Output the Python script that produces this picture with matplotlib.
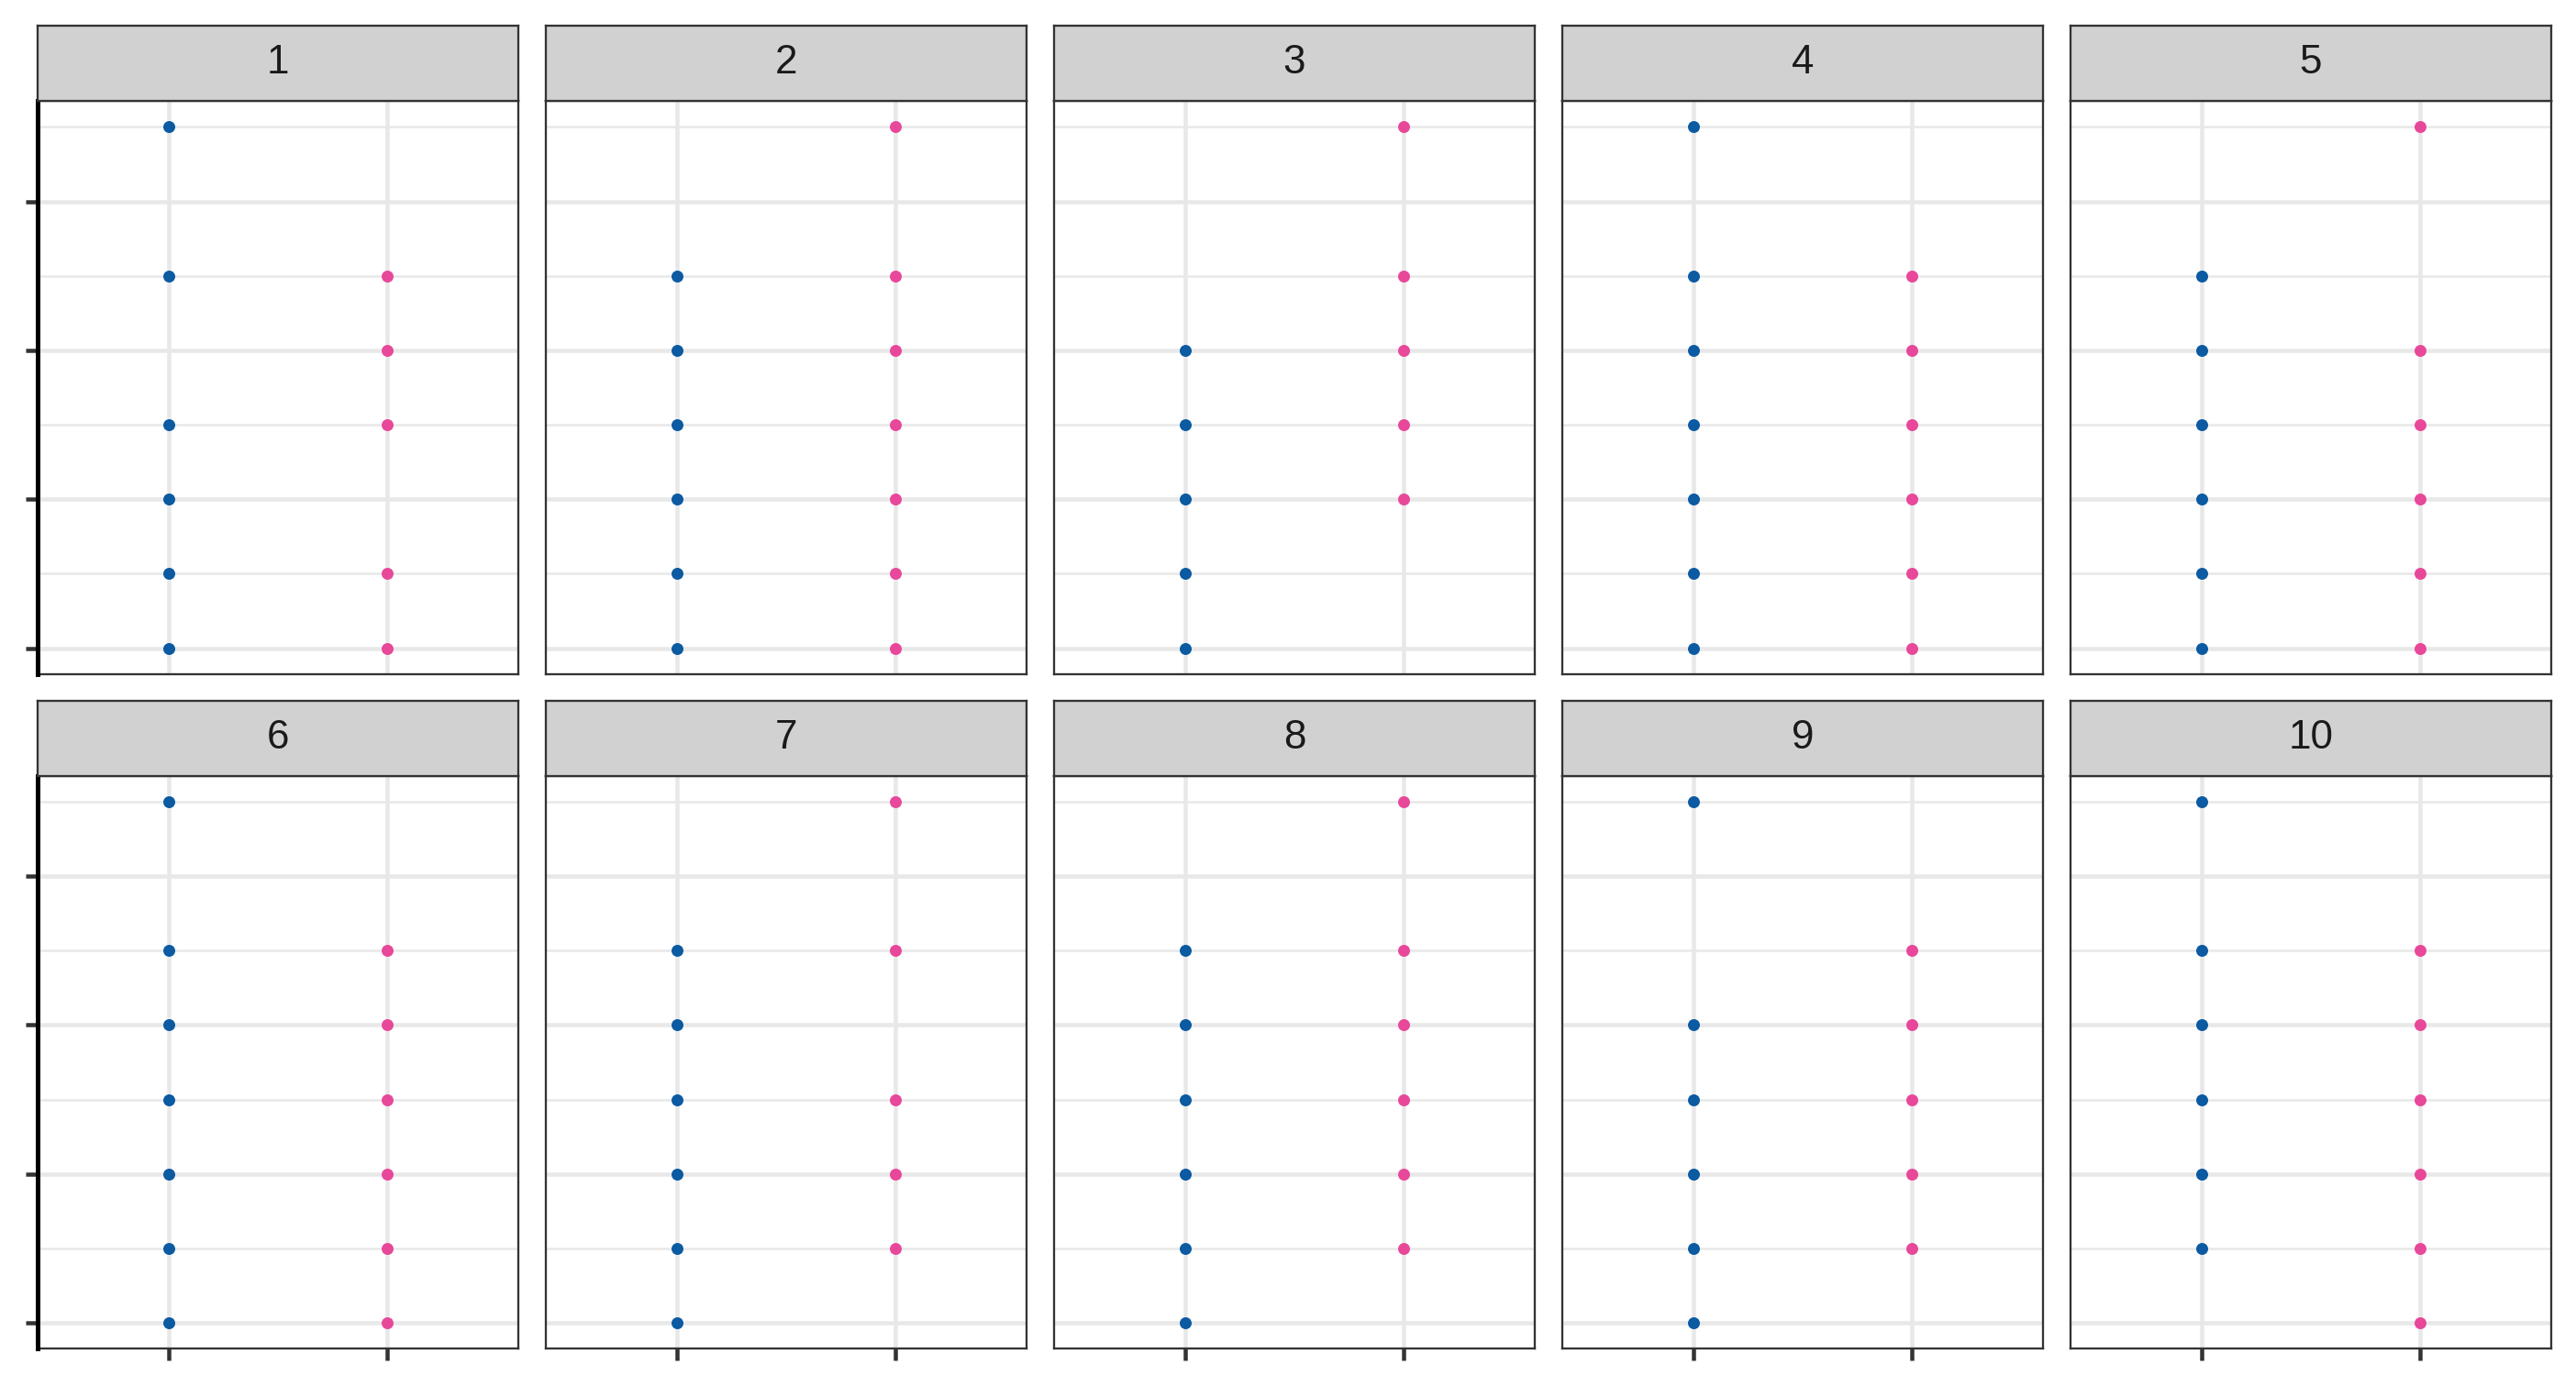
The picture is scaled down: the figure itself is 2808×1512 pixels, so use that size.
import matplotlib
matplotlib.use("Agg")
import matplotlib.pyplot as plt

# facet labels and the two groups on the x axis
facets = ["1", "2", "3", "4", "5", "6", "7", "8", "9", "10"]
groups = ["A", "B"]

# y values per facet
blue_y = [
    [7, 5, 3, 2, 1, 0],
    [5, 4, 3, 2, 1, 0],
    [4, 3, 2, 1, 0],
    [7, 5, 4, 3, 2, 1, 0],
    [5, 4, 3, 2, 1, 0],
    [7, 5, 4, 3, 2, 1, 0],
    [5, 4, 3, 2, 1, 0],
    [5, 4, 3, 2, 1, 0],
    [7, 4, 3, 2, 1, 0],
    [7, 5, 4, 3, 2, 1],
]
pink_y = [
    [5, 4, 3, 1, 0],
    [7, 5, 4, 3, 2, 1, 0],
    [7, 5, 4, 3, 2],
    [5, 4, 3, 2, 1, 0],
    [7, 4, 3, 2, 1, 0],
    [5, 4, 3, 2, 1, 0],
    [7, 5, 3, 2, 1],
    [7, 5, 4, 3, 2, 1],
    [5, 4, 3, 2, 1],
    [5, 4, 3, 2, 1, 0],
]
major_y = [0, 2, 4, 6]
minor_y = [1, 3, 5, 7]

BLUE = "#0B5AA2"
PINK = "#E8489A"
BORDER = "#333333"
GRID = "#E8E8E8"

W, H, DPI = 2808, 1512, 216
fig = plt.figure(figsize=(W / DPI, H / DPI), dpi=DPI)
fig.patch.set_facecolor("white")


def px(p):
    # pixels -> points
    return p * 72.0 / DPI


# layout in pixels (ggplot facet_wrap look)
left0, pw, gap = 41, 524, 30
rows = [(28, 110, 735), (764, 846, 1470)]  # strip top, panel top, panel bottom


def frac(x0, ytop, x1, ybot):
    return [x0 / W, 1 - ybot / H, (x1 - x0) / W, (ybot - ytop) / H]


for k, lab in enumerate(facets):
    r, c = divmod(k, 5)
    st, pt, pb = rows[r]
    x0 = left0 + c * (pw + gap)

    ax = fig.add_axes(frac(x0, pt, x0 + pw, pb))
    ax.set_axisbelow(True)
    ms = px(13) ** 2
    ax.scatter([groups[0]] * len(blue_y[k]), blue_y[k], s=ms, color=BLUE, linewidths=0, zorder=3)
    ax.scatter([groups[1]] * len(pink_y[k]), pink_y[k], s=ms, color=PINK, linewidths=0, zorder=3)
    ax.set_xlim(-0.6, 1.6)
    ax.set_ylim(-0.35, 7.35)

    ax.set_yticks(major_y)
    ax.set_yticks(minor_y, minor=True)
    ax.grid(True, which="major", color=GRID, lw=px(4.5))
    ax.grid(True, which="minor", axis="y", color=GRID, lw=px(2.5))
    ax.set_xticklabels([])
    ax.set_yticklabels([])
    ax.tick_params(which="minor", length=0)
    ax.tick_params(which="major", length=px(13), width=px(4.5), color=BORDER)
    ax.tick_params(axis="x", bottom=(r == 1))
    ax.tick_params(axis="y", left=(c == 0))

    for sp in ax.spines.values():
        sp.set_color(BORDER)
        sp.set_linewidth(px(2.3))
    if c == 0:
        ax.spines["left"].set_color("black")
        ax.spines["left"].set_linewidth(px(5))
        ax.spines["left"].set_zorder(5)

    # strip on top of the panel
    sx = fig.add_axes(frac(x0, st, x0 + pw, pt))
    sx.set_facecolor("#D1D1D1")
    sx.set_xticks([])
    sx.set_yticks([])
    for sp in sx.spines.values():
        sp.set_color(BORDER)
        sp.set_linewidth(px(2.3))
    sx.text(0.5, 0.5, lab, ha="center", va="center", fontsize=px(44),
            color="#1A1A1A", family="Liberation Sans", transform=sx.transAxes)

fig.savefig("out.png", dpi=DPI, facecolor="white")
